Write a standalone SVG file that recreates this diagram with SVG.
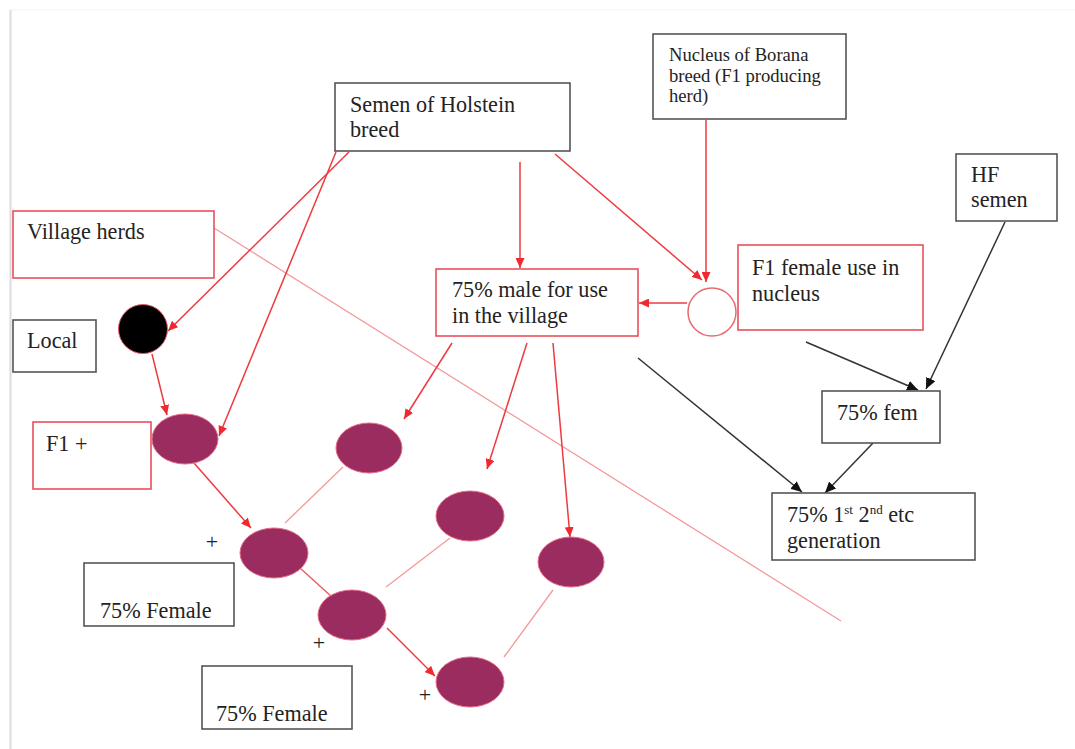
<svg xmlns="http://www.w3.org/2000/svg" width="1075" height="749" viewBox="0 0 1075 749">
<style>
  text { font-family: "Liberation Serif", Tinos, "DejaVu Serif", "Noto Serif", serif; fill: #232323; }
  .t { font-size: 22.2px; }
  .s { font-size: 18.6px; }
  .p { font-size: 22px; }
  .bk { fill: #ffffff; stroke: #555555; stroke-width: 1.6; }
  .rd { fill: #ffffff; stroke: #e8505e; stroke-width: 1.6; }
  .egg { fill: #9b2c5f; stroke: #e66a86; stroke-width: 1; }
  .ra { stroke: #ee3a3f; stroke-width: 1.5; fill: none; marker-end: url(#ar); }
  .rl { stroke: #ea5a60; stroke-width: 1.4; fill: none; }
  .pl { stroke: #f29a9c; stroke-width: 1.3; fill: none; }
  .ba { stroke: #333333; stroke-width: 1.5; fill: none; marker-end: url(#ab); }
</style>
<defs>
  <marker id="ar" markerUnits="userSpaceOnUse" markerWidth="11" markerHeight="9" refX="10" refY="4.5" orient="auto">
    <path d="M0,0 L10,4.5 L0,9 z" fill="#ee2a30"/>
  </marker>
  <marker id="ab" markerUnits="userSpaceOnUse" markerWidth="12" markerHeight="10" refX="11" refY="5" orient="auto">
    <path d="M0,0 L11,5 L0,10 z" fill="#111111"/>
  </marker>
</defs>
<rect x="0" y="0" width="1075" height="749" fill="#ffffff"/>
<line x1="10" y1="10" x2="1075" y2="10" stroke="#f3f3f3" stroke-width="1"/>
<line x1="10.5" y1="10" x2="10.5" y2="749" stroke="#dcdcdc" stroke-width="2"/>

<g id="connectors">
  <line class="pl" x1="214" y1="228" x2="841" y2="621"/>
  <line class="ra" x1="349" y1="152" x2="168" y2="331"/>
  <line class="ra" x1="336" y1="152" x2="219" y2="436"/>
  <line class="ra" x1="152" y1="354" x2="167" y2="415"/>
  <line class="ra" x1="520" y1="162" x2="520" y2="268"/>
  <line class="ra" x1="555" y1="154" x2="702" y2="280"/>
  <line class="ra" x1="706" y1="120" x2="706" y2="282"/>
  <line class="ra" x1="687" y1="303" x2="639" y2="303"/>
  <line class="ra" x1="452" y1="343" x2="404" y2="419"/>
  <line class="ra" x1="527" y1="343" x2="487" y2="469"/>
  <line class="ra" x1="553" y1="343" x2="570" y2="537"/>
  <line class="ra" x1="194" y1="463" x2="251" y2="528"/>
  <line class="rl" x1="300" y1="568" x2="332" y2="597"/>
  <line class="ra" x1="387" y1="628" x2="435" y2="676"/>
  <line class="pl" x1="343" y1="467" x2="285" y2="523"/>
  <line class="pl" x1="450" y1="538" x2="386" y2="587"/>
  <line class="pl" x1="553" y1="590" x2="504" y2="657"/>
  <line class="ba" x1="638" y1="358" x2="802" y2="492"/>
  <line class="ba" x1="806" y1="342" x2="918" y2="390"/>
  <line class="ba" x1="1005" y1="222" x2="926" y2="389"/>
  <line class="ba" x1="873" y1="443" x2="825" y2="493"/>
</g>

<g id="semen-holstein">
  <rect class="bk" x="335" y="83" width="235" height="68"/>
  <text class="t" x="350" y="112">Semen of Holstein</text>
  <text class="t" x="350" y="137">breed</text>
</g>
<g id="nucleus-borana">
  <rect class="bk" x="653" y="34" width="193" height="85"/>
  <text class="s" x="669" y="61">Nucleus of Borana</text>
  <text class="s" x="669" y="82">breed (F1 producing</text>
  <text class="s" x="669" y="102">herd)</text>
</g>
<g id="hf-semen">
  <rect class="bk" x="956" y="154" width="101" height="67"/>
  <text class="t" x="971" y="182">HF</text>
  <text class="t" x="971" y="207">semen</text>
</g>
<g id="village-herds">
  <rect class="rd" x="13" y="211" width="201" height="67"/>
  <text class="t" x="27" y="239">Village herds</text>
</g>
<g id="local">
  <rect class="bk" x="13" y="320" width="83" height="52"/>
  <text class="t" x="27" y="348">Local</text>
</g>
<g id="local-cow">
  <circle cx="143" cy="329" r="24.5" fill="#000000" stroke="#e85a6a" stroke-width="1"/>
</g>
<g id="male-village">
  <rect class="rd" x="436" y="269" width="202" height="67"/>
  <text class="t" x="452" y="297">75% male for use</text>
  <text class="t" x="452" y="323">in the village</text>
</g>
<g id="f1-circle">
  <circle cx="712" cy="312" r="24" fill="#ffffff" stroke="#e86a70" stroke-width="1.5"/>
</g>
<g id="f1-female-nucleus">
  <rect class="rd" x="738" y="245" width="185" height="85"/>
  <text class="t" x="752" y="275">F1 female use in</text>
  <text class="t" x="752" y="301">nucleus</text>
</g>
<g id="f1-box">
  <rect class="rd" x="33" y="422" width="118" height="67"/>
  <text class="t" x="46" y="451">F1 +</text>
</g>
<g id="fem75">
  <rect class="bk" x="822" y="391" width="118" height="52"/>
  <text class="t" x="837" y="420">75% fem</text>
</g>
<g id="generation">
  <rect class="bk" x="772" y="493" width="203" height="67"/>
  <text class="t" x="787" y="522">75% 1<tspan font-size="13" dy="-8">st</tspan><tspan dy="8"> 2</tspan><tspan font-size="13" dy="-8">nd</tspan><tspan dy="8"> etc</tspan></text>
  <text class="t" x="787" y="548">generation</text>
</g>
<g id="female75-a">
  <rect class="bk" x="84" y="563" width="150" height="63"/>
  <text class="t" x="100" y="618">75% Female</text>
</g>
<g id="female75-b">
  <rect class="bk" x="202" y="666" width="150" height="63"/>
  <text class="t" x="216" y="721">75% Female</text>
</g>
<g id="cow-f1"><ellipse class="egg" cx="185" cy="439" rx="33" ry="25"/></g>
<g id="cow-2"><ellipse class="egg" cx="369" cy="448" rx="33" ry="25"/></g>
<g id="cow-3"><ellipse class="egg" cx="274" cy="553" rx="34" ry="25"/></g>
<g id="cow-4"><ellipse class="egg" cx="470" cy="516" rx="34" ry="25"/></g>
<g id="cow-5"><ellipse class="egg" cx="352" cy="615" rx="34" ry="25"/></g>
<g id="cow-6"><ellipse class="egg" cx="571" cy="562" rx="33" ry="25"/></g>
<g id="cow-7"><ellipse class="egg" cx="470" cy="682" rx="34" ry="25"/></g>
<g id="plus-signs">
  <text class="p" x="212" y="549" text-anchor="middle">+</text>
  <text class="p" x="319" y="650" text-anchor="middle">+</text>
  <text class="p" x="425" y="702" text-anchor="middle">+</text>
</g>
</svg>
